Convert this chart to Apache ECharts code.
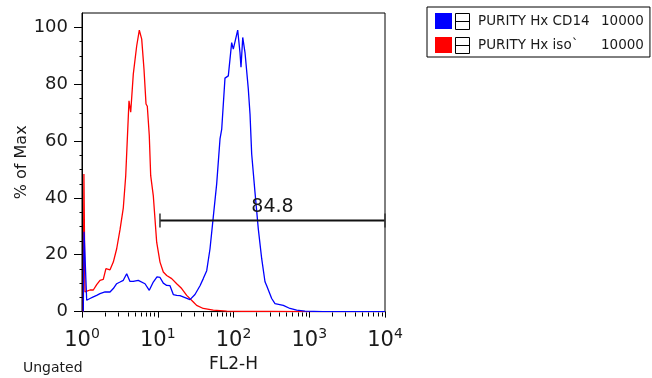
<!DOCTYPE html>
<html><head><meta charset="utf-8">
<script src="https://cdn.jsdelivr.net/npm/echarts@6/dist/echarts.min.js"></script>
<style>html,body{margin:0;padding:0;background:#fff}#c{width:652px;height:378px}</style>
</head><body><div id="c"></div>
<script>
const seriesNames = ['PURITY Hx CD14', 'PURITY Hx iso`'];
const seriesCounts = [10000, 10000];
const seriesColors = ['#0000ff', '#ff0000'];

const cd14 = [[1.04,0],[1.065,28.1],[1.153,4.0],[1.275,4.6],[1.41,5.2],[1.563,5.7],[1.728,6.3],[2.012,6.9],[2.343,6.9],[2.59,8.1],[2.87,9.8],[3.176,10.4],[3.51,11.0],[3.89,13.3],[4.08,12.7],[4.30,10.6],[4.75,10.6],[5.53,11.0],[5.83,11.3],[6.79,9.8],[7.73,7.5],[8.73,10.4],[9.77,12.2],[10.71,12.0],[11.84,10.0],[13.12,9.2],[14.51,9.1],[16.04,6.0],[17.79,5.7],[19.67,5.6],[22.9,4.9],[26.66,4.2],[31.0,6.0],[36.13,9.1],[39.9,11.6],[44.3,14.4],[48.98,22.1],[54.1,33.3],[59.98,44.9],[66.35,60.7],[69.9,64.2],[77.2,82.1],[85.4,82.9],[94.6,94.6],[99.4,92.3],[113.6,99.0],[121.8,91.1],[125.6,85.9],[132.4,96.4],[141.9,91.1],[156.8,78.3],[165.2,69.5],[173.8,55.4],[192.1,42.0],[212.5,29.1],[235.6,18.6],[260.5,10.5],[274.3,9.1],[319.3,4.6],[353.0,2.8],[454.4,2.2],[556.7,1.1],[683,0.5],[879,0.2],[1500,0],[10000,0]];

const iso = [[1.04,0],[1.06,48.4],[1.095,6.9],[1.153,7.3],[1.275,7.6],[1.41,7.6],[1.563,9.5],[1.728,11.0],[1.91,11.3],[2.07,15.1],[2.343,14.7],[2.59,17.4],[2.87,22.1],[3.176,28.8],[3.51,36.5],[3.776,47.7],[4.173,74.1],[4.395,70.1],[4.755,83.5],[5.27,93.4],[5.71,99.0],[6.14,95.8],[6.58,85.3],[7.0,73.0],[7.28,72.2],[7.73,61.9],[8.07,47.8],[8.73,40.8],[9.68,24.4],[10.71,17.4],[11.84,13.9],[13.12,12.7],[15.28,11.6],[17.79,9.8],[20.7,8.1],[24.1,5.7],[29.5,3.4],[32.6,2.2],[39.9,1.1],[54.1,0.5],[81.3,0.2],[134.6,0.1],[300,0.1],[1000,0],[10000,0]];

const gateRange = [10.7, 10000];
const gateY = 32;
const gateLabel = '84.8';

const yMajorTicks = [0, 20, 40, 60, 80, 100];
const yMinorTicks = [5,10,15,25,30,35,45,50,55,65,70,75,85,90,95];
const xMajorTicks = [1, 10, 100, 1000, 10000];
const xMinorTicks = [2,3,4,5,6,7,8,9,20,30,40,50,60,70,80,90,200,300,400,500,600,700,800,900,2000,3000,4000,5000,6000,7000,8000,9000];

const FONT = 'DejaVu Sans';
const TXT = '#1a1a1a';

const chart = echarts.init(document.getElementById('c'), null, {renderer: 'canvas'});
const countOf = {};
seriesNames.forEach((n, i) => countOf[n] = seriesCounts[i]);

function tickSeries(data, dx, dy) {
  return {
    type: 'custom', clip: false, silent: true, z: 6,
    data: data, encode: {x: 0, y: 1},
    renderItem: (params, api) => {
      const p = api.coord([api.value(0), api.value(1)]);
      const x = Math.round(p[0]) + 0.5, y = Math.round(p[1]) + 0.5;
      return {type: 'line', shape: {x1: x, y1: y, x2: x + dx, y2: y + dy}, style: {stroke: '#000', lineWidth: 1}};
    }
  };
}

chart.setOption({
  animation: false,
  grid: {left: 82, right: 267, top: 13, bottom: 65, show: true, borderColor: '#000', borderWidth: 1, backgroundColor: 'transparent'},
  xAxis: {
    type: 'log', logBase: 10, min: 1, max: 10000, position: 'bottom',
    axisLine: {onZero: false, lineStyle: {color: '#000', width: 1}},
    axisTick: {customValues: xMajorTicks, length: 6, lineStyle: {color: '#000'}},
    axisLabel: {
      customValues: xMajorTicks, margin: 16,
      formatter: v => '{b|10}{s|' + Math.round(Math.log10(v)) + '}',
      rich: {
        b: {fontFamily: FONT, fontSize: 21, color: TXT, lineHeight: 26},
        s: {fontFamily: FONT, fontSize: 14, color: TXT, lineHeight: 14, verticalAlign: 'top'}
      }
    },
    splitLine: {show: false},
    name: 'FL2-H', nameLocation: 'middle', nameGap: 31,
    nameTextStyle: {fontFamily: FONT, fontSize: 17, color: TXT}
  },
  yAxis: {
    type: 'value', min: 0, max: 105,
    axisLine: {show: true, onZero: false, lineStyle: {color: '#000', width: 1}},
    axisTick: {customValues: yMajorTicks, length: 8, lineStyle: {color: '#000'}},
    axisLabel: {customValues: yMajorTicks, margin: 14, fontFamily: FONT, fontSize: 18, color: TXT},
    splitLine: {show: false},
    name: '% of Max', nameLocation: 'middle', nameRotate: 90, nameGap: 51,
    nameTextStyle: {fontFamily: FONT, fontSize: 16, color: TXT}
  },
  legend: {
    data: seriesNames, orient: 'vertical', left: 427, top: 7,
    padding: [6, 6, 4, 8], itemWidth: 17, itemHeight: 16, itemGap: 8,
    icon: 'rect', borderColor: '#000', borderWidth: 1, backgroundColor: '#fff',
    selectedMode: false,
    formatter: name => '{sp| }{n|' + name + '}{c|' + countOf[name] + '}',
    textStyle: {
      fontFamily: FONT, fontSize: 13.5, color: TXT,
      rich: {
        sp: {width: 21, lineHeight: 16},
        n: {width: 123, fontFamily: FONT, fontSize: 13.5, color: TXT, lineHeight: 16},
        c: {fontFamily: FONT, fontSize: 13.5, color: TXT, lineHeight: 16}
      }
    }
  },
  graphic: [
    {type: 'rect', left: 455, top: 13, shape: {width: 14, height: 16}, style: {fill: '#fff', stroke: '#000', lineWidth: 1}, z: 100},
    {type: 'line', shape: {x1: 455, y1: 21.5, x2: 469, y2: 21.5}, style: {stroke: '#000', lineWidth: 1}, z: 101},
    {type: 'rect', left: 455, top: 37, shape: {width: 14, height: 16}, style: {fill: '#fff', stroke: '#000', lineWidth: 1}, z: 100},
    {type: 'line', shape: {x1: 455, y1: 45.5, x2: 469, y2: 45.5}, style: {stroke: '#000', lineWidth: 1}, z: 101},
    {type: 'text', left: 23, top: 361, style: {text: 'Ungated', font: '14px "DejaVu Sans"', fill: TXT}}
  ],
  series: [
    {
      name: seriesNames[1], type: 'line', data: iso, showSymbol: false, symbol: 'none',
      lineStyle: {color: seriesColors[1], width: 1.3}, itemStyle: {color: seriesColors[1]}, z: 2
    },
    {
      name: seriesNames[0], type: 'line', data: cd14, showSymbol: false, symbol: 'none',
      lineStyle: {color: seriesColors[0], width: 1.3}, itemStyle: {color: seriesColors[0]}, z: 3
    },
    tickSeries(xMinorTicks.map(v => [v, 0]), 0, 4),
    tickSeries(yMinorTicks.map(v => [1, v]), -3, 0),
    {
      type: 'custom', clip: false, silent: true, z: 5,
      data: [[gateRange[0], gateRange[1], gateY]],
      encode: {x: [0, 1], y: 2},
      renderItem: (params, api) => {
        const p1 = api.coord([api.value(0), api.value(2)]);
        const p2 = api.coord([api.value(1), api.value(2)]);
        return {type: 'group', children: [
          {type: 'line', shape: {x1: p1[0], y1: p1[1], x2: p2[0], y2: p2[1]}, style: {stroke: '#111', lineWidth: 2}},
          {type: 'line', shape: {x1: p1[0], y1: p1[1] - 7, x2: p1[0], y2: p1[1] + 7}, style: {stroke: '#333', lineWidth: 1.5}},
          {type: 'line', shape: {x1: p2[0], y1: p2[1] - 7, x2: p2[0], y2: p2[1] + 7}, style: {stroke: '#333', lineWidth: 1.5}},
          {type: 'text', x: (p1[0] + p2[0]) / 2, y: p1[1] - 4, style: {text: gateLabel, font: '19px "DejaVu Sans"', fill: TXT, align: 'center', verticalAlign: 'bottom'}}
        ]};
      }
    }
  ]
});
</script></body></html>
